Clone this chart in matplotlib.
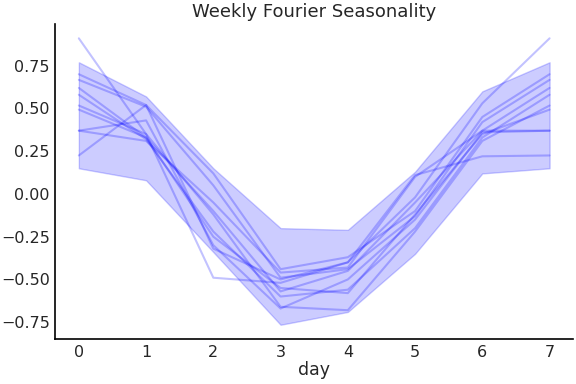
"""
Weekly Fourier seasonality: sampled curves plus an interval band
"""

import matplotlib
matplotlib.use("Agg")
import matplotlib.pyplot as plt
import seaborn as sns


DAYS = [0, 1, 2, 3, 4, 5, 6, 7]

# sampled seasonality curves (day 7 wraps back to day 0)
CURVE_1 = [0.91, 0.35, -0.49, -0.52, -0.40, -0.02, 0.53, 0.91]
CURVE_2 = [0.70, 0.52, 0.12, -0.44, -0.37, -0.10, 0.45, 0.70]
CURVE_3 = [0.667, 0.51, 0.05, -0.49, -0.44, -0.13, 0.42, 0.667]
CURVE_4 = [0.62, 0.33, -0.10, -0.57, -0.45, -0.05, 0.37, 0.62]
CURVE_5 = [0.58, 0.32, -0.22, -0.60, -0.56, -0.20, 0.33, 0.58]
CURVE_6 = [0.517, 0.35, -0.12, -0.66, -0.68, -0.22, 0.31, 0.517]
CURVE_7 = [0.493, 0.33, -0.25, -0.55, -0.58, -0.12, 0.35, 0.493]
CURVE_8 = [0.37, 0.43, -0.30, -0.67, -0.50, -0.15, 0.36, 0.37]
CURVE_9 = [0.37, 0.31, -0.05, -0.46, -0.43, 0.10, 0.37, 0.37]
CURVE_10 = [0.225, 0.52, -0.32, -0.50, -0.40, 0.11, 0.22, 0.225]

# interval band
BAND_LOWER = [0.15, 0.08, -0.34, -0.765, -0.69, -0.35, 0.12, 0.15]
BAND_UPPER = [0.77, 0.57, 0.15, -0.20, -0.21, 0.13, 0.60, 0.77]


def main():
    sns.set_style("white")
    fig, ax = plt.subplots(figsize=(5.76, 3.84), dpi=100)
    fig.subplots_adjust(left=0.096, right=0.995, top=0.9375, bottom=0.117)

    ax.fill_between(DAYS, BAND_LOWER, BAND_UPPER, color="b", alpha=0.2)

    curves = [CURVE_1, CURVE_2, CURVE_3, CURVE_4, CURVE_5,
              CURVE_6, CURVE_7, CURVE_8, CURVE_9, CURVE_10]
    for c in curves:
        ax.plot(DAYS, c, color="b", alpha=0.24, linewidth=1.5)

    ax.set_xticks(DAYS)
    ax.set_yticks([-0.75, -0.5, -0.25, 0.0, 0.25, 0.5, 0.75])
    ax.tick_params(labelsize=11.5, colors="#262626", length=0, pad=4)
    ax.set_xlabel("day", fontsize=12.5, color="#262626", labelpad=1)
    ax.set_title("Weekly Fourier Seasonality", fontsize=13, color="#262626", pad=5)
    for s in ("left", "bottom"):
        ax.spines[s].set_color("black")
        ax.spines[s].set_linewidth(1.2)
    sns.despine(ax=ax)

    fig.savefig("out.png", dpi=100, facecolor="white")
    plt.close(fig)


if __name__ == "__main__":
    main()
